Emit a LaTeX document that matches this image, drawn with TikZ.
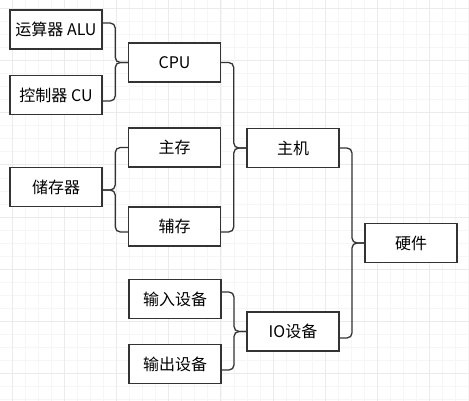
\documentclass[tikz,border=0pt]{standalone}
\usepackage{fontspec}
\setmainfont{Noto Sans CJK SC}
\usetikzlibrary{calc}
\definecolor{edge}{HTML}{333333}
\definecolor{gridmajor}{HTML}{EBEBEB}
\definecolor{gridminor}{HTML}{F6F6F6}
\tikzset{
  box/.style={draw=edge, line width=1.3pt, fill=white, minimum width=92pt, minimum height=39pt,
    inner sep=0pt, font=\fontsize{16}{19}\selectfont, text=black},
  brace/.style={draw=edge, line width=1.3pt, rounded corners=5pt},
  gminor/.style={draw=gridminor, line width=0.8pt},
  gmajor/.style={draw=gridmajor, line width=0.9pt}
}
\begin{document}
\begin{tikzpicture}[x=1pt,y=-1pt]
\useasboundingbox[fill=white] (0,0) rectangle (469,401);
% grid
\foreach \i in {-1,...,35} { \draw[gminor] ({12.1+\i*13.05},0) -- ++(0,401); }
\foreach \j in {0,...,30} { \draw[gminor] (0,{8.3+\j*13.05}) -- ++(469,0); }
\foreach \i in {0,...,8} { \draw[gmajor] ({12.1+\i*52.2},0) -- ++(0,401); }
\foreach \j in {0,...,7} { \draw[gmajor] (0,{8.3+\j*52.2}) -- ++(469,0); }
% boxes
\node[box] (alu) at (56,29.5) {运算器 ALU};
\node[box] (cu) at (56,95) {控制器 CU};
\node[box] (cpu) at (174.5,62.5) {CPU};
\node[box] (zc) at (174.5,147.5) {主存};
\node[box] (ccq) at (56,187) {储存器};
\node[box] (fc) at (174.5,226.5) {辅存};
\node[box] (zj) at (293,148) {主机};
\node[box] (yj) at (411,243) {硬件};
\node[box] (sr) at (175,299) {输入设备};
\node[box] (io) at (293,331.5) {IO设备};
\node[box] (sc) at (175,364) {输出设备};
% brace 1: ALU, CU -> CPU
\coordinate (a1) at ([yshift=6.5pt]alu.east);
\coordinate (b1) at ([yshift=-6pt]cu.east);
\coordinate (t1) at (cpu.west);
\coordinate (m1) at ($(a1)!.5!(t1)$);
\draw[brace] (a1) -| (m1 |- t1) -- (t1);
\draw[brace] (b1) -| (m1 |- t1) -- (t1);
% brace 2: 储存器 -> 主存, 辅存
\coordinate (a2) at (zc.west);
\coordinate (b2) at ([yshift=-5.5pt]fc.west);
\coordinate (t2) at ([yshift=-3pt]ccq.east);
\coordinate (m2) at ($(a2)!.5!(t2)$);
\draw[brace] (a2) -| (m2 |- t2) -- (t2);
\draw[brace] (b2) -| (m2 |- t2) -- (t2);
% brace 3: CPU, 辅存 -> 主机
\coordinate (a3) at (cpu.east);
\coordinate (b3) at ([yshift=-5.5pt]fc.east);
\coordinate (t3) at (zj.west);
\coordinate (m3) at ($(a3)!.5!(t3)$);
\draw[brace] (a3) -| (m3 |- t3) -- (t3);
\draw[brace] (b3) -| (m3 |- t3) -- (t3);
% brace 4: 主机, IO设备 -> 硬件
\coordinate (a4) at (zj.east);
\coordinate (b4) at ([yshift=-6.5pt]io.east);
\coordinate (t4) at (yj.west);
\coordinate (m4) at ($(a4)!.5!(t4)$);
\draw[brace] (a4) -| (m4 |- t4) -- (t4);
\draw[brace] (b4) -| (m4 |- t4) -- (t4);
% brace 5: 输入设备, 输出设备 -> IO设备
\coordinate (a5) at ([yshift=7pt]sr.east);
\coordinate (b5) at ([yshift=-6pt]sc.east);
\coordinate (t5) at (io.west);
\coordinate (m5) at ($(a5)!.5!(t5)$);
\draw[brace] (a5) -| (m5 |- t5) -- (t5);
\draw[brace] (b5) -| (m5 |- t5) -- (t5);
\end{tikzpicture}
\end{document}
